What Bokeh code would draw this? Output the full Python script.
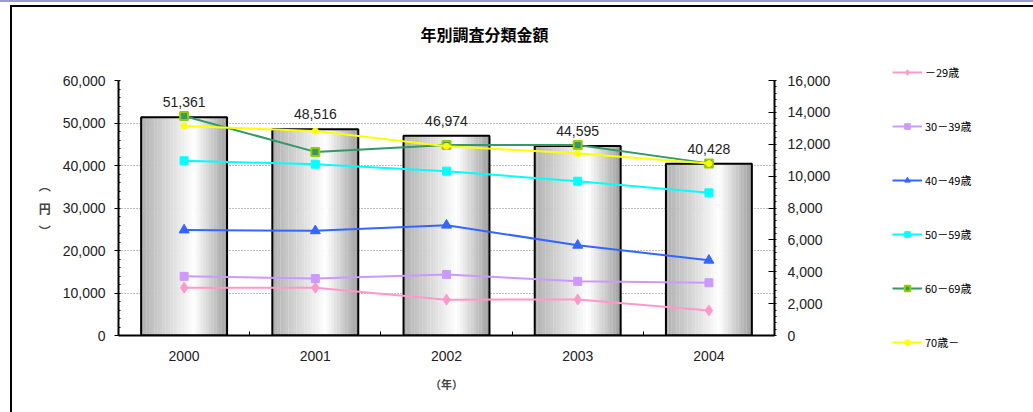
from bokeh.plotting import figure
from bokeh.layouts import row, column
from bokeh.models import (Range1d, LinearAxis, SingleIntervalTicker, FixedTicker,
                          NumeralTickFormatter, Legend, LegendItem, Label,
                          ColumnDataSource, InlineStyleSheet)
from bokeh.transform import dodge
from bokeh.core.properties import value
from bokeh.embed import file_html
from bokeh.resources import INLINE

# ---------------- data ----------------
years = ["2000", "2001", "2002", "2003", "2004"]
totals = [51361, 48516, 46974, 44595, 40428]
age_labels = ["－29歳", "30－39歳", "40－49歳", "50－59歳", "60－69歳", "70歳－"]
s_29 = [3000, 3000, 2250, 2260, 1570]
s_30 = [3710, 3570, 3830, 3400, 3310]
s_40 = [6620, 6570, 6920, 5660, 4720]
s_50 = [10960, 10750, 10310, 9680, 8950]
s_60 = [13770, 11520, 11950, 11950, 10800]
s_70 = [13140, 12830, 11880, 11420, 10790]
title_text = "年別調査分類金額"
x_label = "（年）"
y_label = "︵\n円\n︶"

x_pos = [i + 0.5 for i in range(len(years))]
bar_labels = [f"{v:,}" for v in totals]
src = ColumnDataSource(dict(x=x_pos, year=years, total=totals, label=bar_labels,
                            s_29=s_29, s_30=s_30, s_40=s_40, s_50=s_50, s_60=s_60, s_70=s_70))

NUM = "Liberation Sans"
JP = "Noto Sans CJK JP"

# ---------------- title strip ----------------
pt = figure(width=1033, height=45, x_range=Range1d(0, 1033), y_range=Range1d(0, 45),
            output_backend="svg", toolbar_location=None, x_axis_location=None,
            y_axis_location=None, min_border=0)
pt.outline_line_color = None
pt.grid.visible = False
pt.add_layout(Label(x=484, y=12, x_units="screen", y_units="screen", text=title_text,
                    text_align="center", text_baseline="middle", text_font=JP,
                    text_font_size="16px", text_font_style="bold", text_color="black"))

# ---------------- main chart ----------------
p = figure(width=860, height=367, x_range=Range1d(0, len(years)), y_range=Range1d(0, 60000),
           output_backend="svg", toolbar_location=None, x_axis_location=None,
           y_axis_location="left",
           min_border_left=118, min_border_right=86, min_border_top=35, min_border_bottom=77)
p.extra_y_ranges = {"right": Range1d(0, 16000)}
p.outline_line_color = None
p.background_fill_color = "white"
p.border_fill_color = "white"
p.xgrid.visible = False

# left axis
ya = p.yaxis[0]
ya.ticker = SingleIntervalTicker(interval=10000, num_minor_ticks=5)
ya.formatter = NumeralTickFormatter(format="0,0")
ya.axis_line_width = 2
ya.axis_line_color = "black"
ya.major_tick_out = 4
ya.major_tick_in = 0
ya.minor_tick_in = 2
ya.minor_tick_out = 0
ya.major_label_standoff = 9
ya.major_label_text_font = NUM
ya.major_label_text_font_size = "14px"
ya.major_label_text_color = "#222222"
ya.axis_label = y_label
ya.axis_label_orientation = "horizontal"
ya.axis_label_text_font = JP
ya.axis_label_text_font_size = "12px"
ya.axis_label_text_font_style = "bold"
ya.axis_label_text_line_height = 1.3
ya.axis_label_standoff = 9
p.ygrid.ticker = ya.ticker
p.ygrid.grid_line_dash = "1 2"
p.ygrid.grid_line_color = "#808080"

# right axis
ra = LinearAxis(y_range_name="right", ticker=SingleIntervalTicker(interval=2000, num_minor_ticks=5),
                formatter=NumeralTickFormatter(format="0,0"))
ra.axis_line_width = 2
ra.major_tick_in = 6
ra.major_tick_out = 0
ra.minor_tick_in = 0
ra.minor_tick_out = 2
ra.major_label_standoff = 11
ra.major_label_text_font = NUM
ra.major_label_text_font_size = "14px"
ra.major_label_text_color = "#222222"
p.add_layout(ra, "right")

# bottom: boundary ticks axis + category labels axis
ea = LinearAxis(ticker=FixedTicker(ticks=list(range(1, len(years)))))
ea.axis_line_width = 2
ea.major_tick_in = 4
ea.major_tick_out = 0
ea.minor_tick_line_color = None
ea.major_label_text_font_size = "0px"
ea.major_label_standoff = 0
p.add_layout(ea, "below")

ca = LinearAxis(ticker=FixedTicker(ticks=x_pos),
                major_label_overrides={xp: y for xp, y in zip(x_pos, years)})
ca.axis_line_color = None
ca.major_tick_line_color = None
ca.minor_tick_line_color = None
ca.major_label_standoff = 9
ca.major_label_text_font = NUM
ca.major_label_text_font_size = "14px"
ca.major_label_text_color = "#222222"
ca.axis_label = x_label
ca.axis_label_text_font = JP
ca.axis_label_text_font_size = "11px"
ca.axis_label_text_font_style = "bold"
ca.axis_label_standoff = 12
p.add_layout(ca, "below")

# gradient bars
w = 0.655
N = 32
stops = [(0.0, 176), (0.62, 255), (1.0, 158)]
def shade(t):
    for (t0, v0), (t1, v1) in zip(stops[:-1], stops[1:]):
        if t0 <= t <= t1:
            v = v0 + (v1 - v0) * (t - t0) / (t1 - t0)
            g = int(round(v))
            return "#%02x%02x%02x" % (g, g, g)
    return "#ffffff"

for i in range(N):
    t = (i + 0.5) / N
    p.vbar(x=dodge("x", -w / 2 + (i + 0.5) * w / N), top="total",
           width=w / N * 1.08, source=src, fill_color=shade(t), line_color=None)
p.vbar(x="x", top="total", width=w, source=src, fill_color=None,
       line_color="black", line_width=2)

p.text(x="x", y="total", text="label", source=src, text_align="center",
       text_baseline="bottom", y_offset=-10, text_font=value(NUM),
       text_font_size="14px", text_color="#222222")

# lines
series = [
    ("s_29", "#ff99cc", "diamond", 11, "#ff99cc", "#ff99cc", 1),
    ("s_30", "#cc99ff", "square", 8, "#cc99ff", "#cc99ff", 1),
    ("s_40", "#3366ff", "triangle", 10, "#3366ff", "#3366ff", 1),
    ("s_50", "#00ffff", "square", 8, "#00ffff", "#00ffff", 1),
    ("s_60", "#339966", "square", 8, "#339966", "#99cc00", 2),
    ("s_70", "#ffff00", "circle", 6, "#ffff00", "#ffff00", 1),
]
for (col, lc, mk, sz, fc, mlc, mlw) in series:
    p.line(x="x", y=col, source=src, y_range_name="right", line_color=lc, line_width=2)
    p.scatter(x="x", y=col, source=src, y_range_name="right", marker=mk, size=sz,
              fill_color=fc, line_color=mlc, line_width=mlw)

# ---------------- legend strip (swatch proxies lie outside the visible range) ----------------
pl = figure(width=173, height=367, x_range=Range1d(0, 1), y_range=Range1d(0, 1),
            output_backend="svg", toolbar_location=None, x_axis_location=None,
            y_axis_location=None, min_border=0)
pl.outline_line_color = None
pl.grid.visible = False
items = []
for (col, lc, mk, sz, fc, mlc, mlw), lab in zip(series, age_labels):
    proxy = ColumnDataSource(dict(x=[-5, -4], y=[-5, -5]))
    lr = pl.line(x="x", y="y", source=proxy, line_color=lc, line_width=2)
    sr = pl.scatter(x="x", y="y", source=proxy, marker=mk, size=sz,
                    fill_color=fc, line_color=mlc, line_width=mlw)
    items.append(LegendItem(label=lab, renderers=[lr, sr]))
leg = Legend(items=items, location=(32, 62), glyph_width=30, glyph_height=14, spacing=38,
             padding=0, margin=0, label_standoff=3, border_line_color=None,
             background_fill_alpha=0, label_text_font=JP, label_text_font_size="11px",
             label_text_color="black", label_height=14)
pl.add_layout(leg)

layout = column(pt, row(p, column(pl, spacing=0), spacing=0), spacing=0)
# outer chart frame and top rule (page decoration)
layout.stylesheets = [InlineStyleSheet(css="""
:host::after { content: ''; position: absolute; left: 10px; top: 5px; width: 1021px; height: 407px;
  border-left: 2px solid #000; border-top: 2px solid #000; pointer-events: none; z-index: 10; }
:host::before { content: ''; position: absolute; left: 0; top: 0; width: 1033px; height: 2px;
  background: #9a9ad0; pointer-events: none; z-index: 10; }
""")]

open("out.html", "w").write(file_html(layout, INLINE))
